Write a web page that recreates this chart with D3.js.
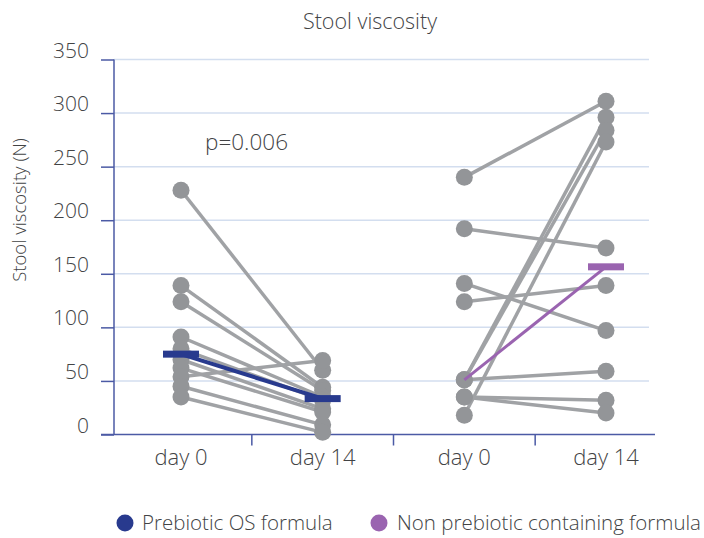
<!DOCTYPE html>
<html>
<head>
<meta charset="utf-8">
<script src="https://cdn.jsdelivr.net/npm/d3@7"></script>
<style>
  html, body { margin: 0; padding: 0; background: #fff; }
  svg { display: block; }
  text { font-family: "Open Sans", "Lato", "DejaVu Sans", sans-serif; font-weight: 300; fill: #424345; }
</style>
</head>
<body>
<svg id="chart" width="704" height="538"></svg>
<script>
// ---------- data ----------
const title = "Stool viscosity";
const yLabel = "Stool viscosity (N)";
const pValueText = "p=0.006";
const groupNames = ["Prebiotic OS formula", "Non prebiotic containing formula"];
const categoryKeys = ["A0", "A14", "B0", "B14"];
const categoryLabels = ["day 0", "day 14", "day 0", "day 14"];
const yTicks = [0, 50, 100, 150, 200, 250, 300, 350];

// paired subject values (day 0 -> day 14)
const prebioticDay0  = [228, 139, 124, 91, 80, 70, 62, 54, 45, 35];
const prebioticDay14 = [ 60,  44,  41, 35, 32, 24, 21, 69,  9,  2];
const nonPrebioticDay0  = [240, 192, 141, 124, 51,  51,  51, 35, 35,  18];
const nonPrebioticDay14 = [311, 174,  97, 139, 59, 296, 284, 32, 20, 273];

// which median bars are visible in the original
const medianBarsShown = [[true, true], [false, true]];

const groupColors = ["#283a8e", "#9a64b0"];

// ---------- layout ----------
const svg = d3.select("#chart");
const y = d3.scaleLinear().domain([0, 350]).range([434.5, 59.5]);
const x = d3.scalePoint().domain(categoryKeys).range([181, 606]);
const plotLeft = 114, plotRight = 649;

const groups = [
  { name: groupNames[0], keys: ["A0", "A14"], d0: prebioticDay0, d14: prebioticDay14, color: groupColors[0] },
  { name: groupNames[1], keys: ["B0", "B14"], d0: nonPrebioticDay0, d14: nonPrebioticDay14, color: groupColors[1] }
];

// gridlines
svg.append("g").selectAll("line").data(yTicks.filter(t => t > 0)).join("line")
  .attr("x1", plotLeft).attr("x2", plotRight)
  .attr("y1", d => y(d)).attr("y2", d => y(d))
  .attr("stroke", "#d3deef").attr("stroke-width", 1.5);

// y axis
const axisColor = "#4b5aa5";
const yAxis = svg.append("g").attr("transform", `translate(${plotLeft},0)`)
  .call(d3.axisLeft(y).tickValues(yTicks).tickSize(13).tickFormat(""));
yAxis.select(".domain").attr("stroke", axisColor).attr("stroke-width", 1.5).attr("d", `M0,${y(350)}V${y(0)}`);
yAxis.selectAll(".tick line").attr("stroke", axisColor).attr("stroke-width", 1.5);

svg.append("g").selectAll("text").data(yTicks).join("text")
  .attr("x", 89).attr("y", d => y(d) - 2)
  .attr("text-anchor", "end")
  .style("font-size", "21px")
  .text(d => d);

// x axis
const xs = categoryKeys.map(k => x(k));
const seps = xs.slice(1).map((v, i) => (xs[i] + v) / 2);
svg.append("line")
  .attr("x1", 101).attr("x2", 655).attr("y1", y(0)).attr("y2", y(0))
  .attr("stroke", axisColor).attr("stroke-width", 1.5);
svg.append("g").selectAll("line").data(seps).join("line")
  .attr("x1", d => d).attr("x2", d => d)
  .attr("y1", y(0)).attr("y2", y(0) + 11)
  .attr("stroke", axisColor).attr("stroke-width", 1.5);
svg.append("g").selectAll("text").data(categoryKeys).join("text")
  .attr("x", d => x(d)).attr("y", 465)
  .attr("text-anchor", "middle")
  .style("font-size", "22px")
  .text((d, i) => categoryLabels[i]);

// paired lines & points
const lineColor = "#a0a2a5", dotColor = "#939598";
groups.forEach(g => {
  const pairs = g.d0.map((v, i) => [v, g.d14[i]]);
  const gg = svg.append("g");
  gg.selectAll("line").data(pairs).join("line")
    .attr("x1", x(g.keys[0])).attr("x2", x(g.keys[1]))
    .attr("y1", d => y(d[0])).attr("y2", d => y(d[1]))
    .attr("stroke", lineColor).attr("stroke-width", 3.5);
  const pts = [];
  pairs.forEach(p => { pts.push([g.keys[0], p[0]]); pts.push([g.keys[1], p[1]]); });
  gg.selectAll("circle").data(pts).join("circle")
    .attr("cx", d => x(d[0])).attr("cy", d => y(d[1]))
    .attr("r", 8.5).attr("fill", dotColor);
});

// medians
groups.forEach((g, gi) => {
  const m0 = d3.median(g.d0), m14 = d3.median(g.d14);
  const mg = svg.append("g");
  mg.append("line")
    .attr("x1", x(g.keys[0])).attr("x2", x(g.keys[1]))
    .attr("y1", y(m0)).attr("y2", y(m14))
    .attr("stroke", g.color).attr("stroke-width", gi === 0 ? 4 : 3);
  [[g.keys[0], m0], [g.keys[1], m14]].forEach((b, bi) => {
    if (!medianBarsShown[gi][bi]) return;
    mg.append("rect")
      .attr("x", x(b[0]) - 18).attr("width", 36)
      .attr("y", y(b[1]) - 3.5).attr("height", 7)
      .attr("fill", g.color);
  });
});

// title, labels
svg.append("text").attr("x", 370).attr("y", 29).attr("text-anchor", "middle")
  .style("font-size", "21.5px").text(title);
svg.append("text").attr("transform", "translate(26,210) rotate(-90)")
  .attr("text-anchor", "middle").style("font-size", "18.5px").text(yLabel);
svg.append("text").attr("x", 205).attr("y", 150)
  .style("font-size", "22.5px").text(pValueText);

// legend
const legendItems = [
  { name: groupNames[0], color: groupColors[0], cx: 125, tx: 142 },
  { name: groupNames[1], color: groupColors[1], cx: 379, tx: 397 }
];
const lg = svg.append("g");
lg.selectAll("circle").data(legendItems).join("circle")
  .attr("cx", d => d.cx).attr("cy", 523).attr("r", 8.5).attr("fill", d => d.color);
lg.selectAll("text").data(legendItems).join("text")
  .attr("x", d => d.tx).attr("y", 530)
  .style("font-size", "20.5px").text(d => d.name);
</script>
</body>
</html>
